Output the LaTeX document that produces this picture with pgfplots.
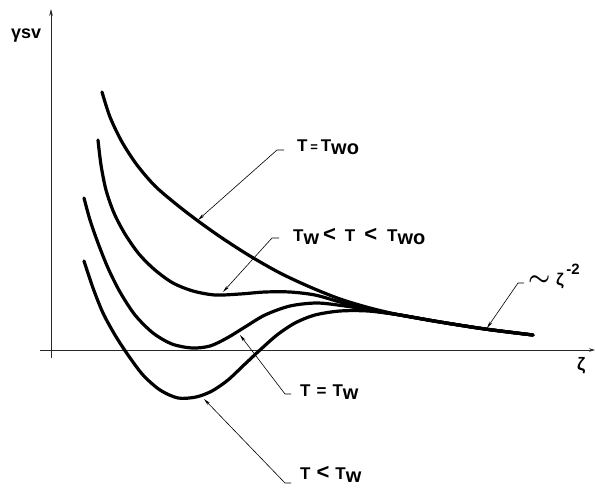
\documentclass[border=0pt]{standalone}
\usepackage{pgfplots}
\pgfplotsset{compat=1.18}
\usepackage{amsmath}
\usepackage{fontspec}
\setmainfont{Liberation Sans}
\usetikzlibrary{arrows.meta}
\newcommand\sub[1]{\raisebox{-0.22em}{\fontsize{20}{20}\selectfont\bfseries #1}}
\newcommand\lt{{\fontsize{22}{22}\selectfont\bfseries<}}
\begin{document}
\begin{tikzpicture}
\begin{axis}[scale only axis, width=595pt, height=488pt,
  xmin=0, xmax=595, ymin=0, ymax=488, y dir=reverse,
  hide axis, clip=false]
% axes
\addplot[line width=0.6pt, black!85, -{Stealth[length=7pt,width=3.5pt]}] coordinates {(51,358) (51,9)};
\addplot[line width=0.6pt, black!85, -{Stealth[length=6pt,width=3.5pt]}] coordinates {(40,350) (595,350)};
% curves
\addplot[line width=3.2pt, smooth, black, line cap=round] coordinates {
(102,92) (110,117) (122,142) (137,165) (155,186) (176,204) (198,221) (222,238) (250,256) (280,273) (310,287) (340,299) (370,308) (400,315) (440,322) (485,329) (533,335)};
\addplot[line width=3.2pt, smooth, black, line cap=round] coordinates {
(98,140) (101,165) (106,190) (114,213) (125,234) (139,254) (155,270) (173,283) (193,291) (215,295) (240,294) (265,292) (290,292) (315,295) (340,302) (370,310) (400,315) (440,322) (485,329) (533,335)};
\addplot[line width=3.2pt, smooth, black, line cap=round] coordinates {
(84,198) (90,220) (98,243) (108,268) (120,292) (135,315) (153,333) (172,344) (192,348) (210,346) (227,338) (245,327) (265,315) (290,306) (317,303) (345,306) (370,310) (400,315) (440,322) (485,329) (533,335)};
\addplot[line width=3.2pt, smooth, black, line cap=round] coordinates {
(84,261) (93,288) (103,313) (115,335) (128,355) (143,375) (160,390) (178,398) (196,397) (212,391) (228,380) (245,364) (260,350) (277,335) (295,323) (315,315) (340,311) (368,311) (400,315) (440,322) (485,329) (533,335)};
% leaders
\addplot[line width=0.6pt, black, -{Stealth[length=7pt,width=3pt]}] coordinates {(284,150) (277,150) (198,220)};
\addplot[line width=0.6pt, black, -{Stealth[length=7pt,width=3pt]}] coordinates {(279,238) (272,238) (223,292)};
\addplot[line width=0.6pt, black, -{Stealth[length=7pt,width=3pt]}] coordinates {(291,394) (285,394) (240,335)};
\addplot[line width=0.6pt, black, -{Stealth[length=7pt,width=3pt]}] coordinates {(291,483) (285,483) (204,399)};
\addplot[line width=0.6pt, black, -{Stealth[length=7pt,width=3pt]}] coordinates {(524,283) (518,283) (487,328)};
% labels
\node[anchor=base west, inner sep=0pt, font=\fontsize{17}{18}\selectfont\bfseries] at (axis cs:297,151) {T\,{\fontsize{13}{13}\selectfont=}\,T\sub{wo}};
\node[anchor=base west, inner sep=0pt, font=\fontsize{17}{18}\selectfont\bfseries] at (axis cs:293,241) {T\sub{w}\hspace{4pt}\lt\hspace{9pt}T\hspace{9pt}\lt\hspace{10pt}T\sub{wo}};
\node[anchor=base west, inner sep=0pt, font=\fontsize{17}{18}\selectfont\bfseries] at (axis cs:300,396) {T\hspace{6pt}=\hspace{6pt}T\sub{w}};
\node[anchor=base west, inner sep=0pt, font=\fontsize{17}{18}\selectfont\bfseries] at (axis cs:300,479) {T\hspace{6pt}\lt\hspace{6pt}T\sub{w}};
\node[anchor=base west, inner sep=0pt, font=\fontsize{17}{18}\selectfont\bfseries] at (axis cs:528,285) {{\fontsize{26}{26}\selectfont$\boldsymbol{\sim}$}\,\,ζ\raisebox{0.6em}{\fontsize{15}{15}\selectfont\,-2}};
\node[anchor=base west, inner sep=0pt, font=\fontsize{18}{18}\selectfont\bfseries] at (axis cs:11,38) {γsv};
\node[anchor=base west, inner sep=0pt, font=\fontsize{18}{18}\selectfont\bfseries] at (axis cs:577,370) {ζ};
\end{axis}
\pgfresetboundingbox
\path (current axis.south west) rectangle (current axis.north east);
\end{tikzpicture}
\end{document}
